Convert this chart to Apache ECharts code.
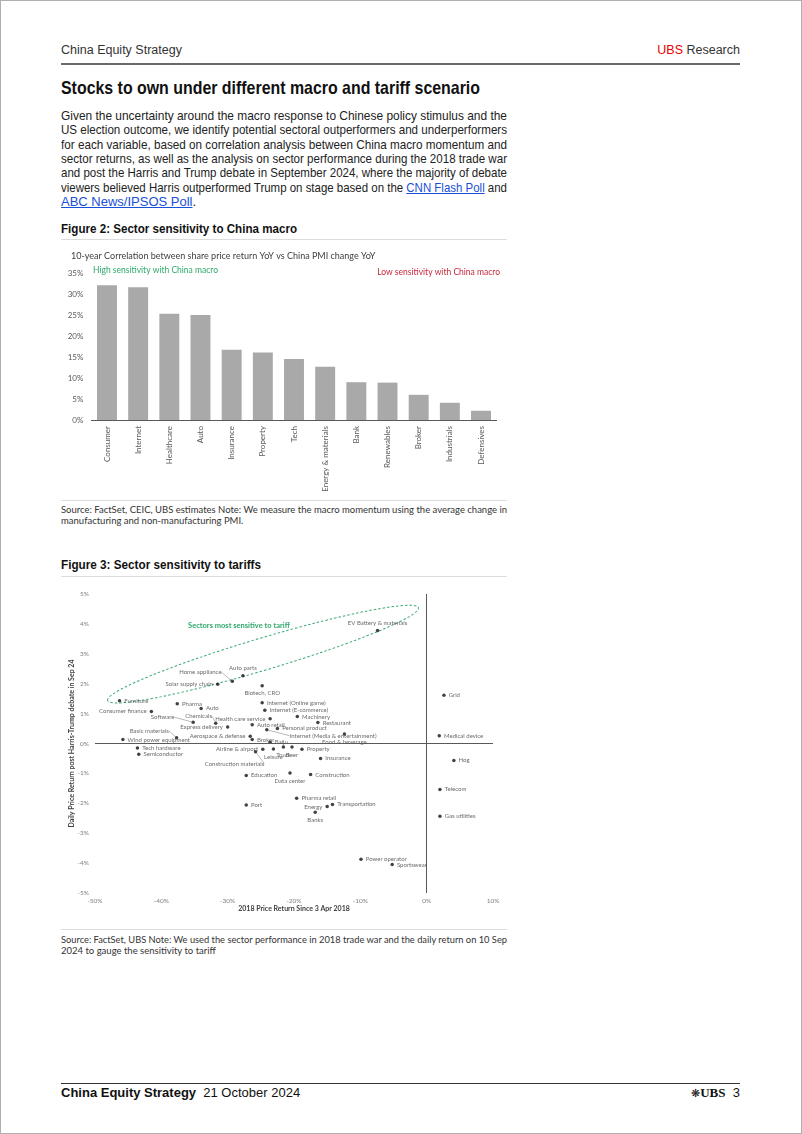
<!DOCTYPE html>
<html>
<head>
<meta charset="utf-8">
<script src="https://cdn.jsdelivr.net/npm/echarts@6/dist/echarts.min.js"></script>
<style>
  html,body{margin:0;padding:0;background:#fff;}
  body{width:802px;height:1134px;position:relative;overflow:hidden;font-family:"Liberation Sans Narrow","Liberation Sans",sans-serif;color:#222;}
  .pageborder{position:absolute;left:0;top:0;width:800px;height:1132px;border:1px solid #b0b0b0;}
  .abs{position:absolute;white-space:nowrap;}
  .jl{position:absolute;left:61px;white-space:nowrap;}
  .jl > span{display:inline-block;transform-origin:0 50%;}
  a{color:#1a4fd6;text-decoration:underline;}
  .rule{position:absolute;left:61px;}
  .src{font-family:"Lato","Liberation Sans",sans-serif;font-size:9.5px;color:#333;}
</style>
</head>
<body>
<div class="pageborder"></div>

<!-- header -->
<div class="abs" style="left:61px;top:42px;font-size:12.5px;line-height:16px;color:#333;">China Equity Strategy</div>
<div class="abs" style="right:62px;top:42px;font-size:12.5px;line-height:16px;color:#333;"><span style="color:#e60000">UBS</span> Research</div>
<div class="rule" style="top:63px;width:679px;height:2px;background:#6a6a6a;"></div>

<!-- title -->
<div class="jl" data-w="419" data-mode="fit" style="top:77px;font-size:19px;line-height:22px;font-weight:bold;color:#111;width:419px;"><span>Stocks to own under different macro and tariff scenario</span></div>

<!-- paragraph -->
<div id="para"></div>

<!-- figure 2 -->
<div class="jl" data-w="236" data-mode="fit" style="top:221px;font-size:13px;line-height:16px;font-weight:bold;color:#111;width:236px;"><span>Figure 2: Sector sensitivity to China macro</span></div>
<div class="rule" style="top:239px;width:446px;height:1px;background:#dcdcdc;"></div>
<div id="chart1" style="position:absolute;left:61px;top:240px;width:446px;height:260px;"></div>
<div class="rule" style="top:500px;width:446px;height:1px;background:#dcdcdc;"></div>
<div class="jl src" data-w="446" data-mode="just" style="top:504px;line-height:12px;width:446px;"><span>Source: FactSet, CEIC, UBS estimates Note: We measure the macro momentum using the average change in</span></div>
<div class="jl src" style="top:515px;line-height:12px;"><span>manufacturing and non-manufacturing PMI.</span></div>

<!-- figure 3 -->
<div class="jl" data-w="200" data-mode="fit" style="top:557px;font-size:13px;line-height:16px;font-weight:bold;color:#111;width:200px;"><span>Figure 3: Sector sensitivity to tariffs</span></div>
<div class="rule" style="top:576px;width:446px;height:1px;background:#dcdcdc;"></div>
<div id="chart2" style="position:absolute;left:61px;top:580px;width:446px;height:345px;"></div>
<div class="rule" style="top:929px;width:446px;height:1px;background:#dcdcdc;"></div>
<div class="jl src" data-w="446" data-mode="just" style="top:934px;line-height:12px;width:446px;"><span>Source: FactSet, UBS Note: We used the sector performance in 2018 trade war and the daily return on 10 Sep</span></div>
<div class="jl src" style="top:945px;line-height:12px;"><span>2024 to gauge the sensitivity to tariff</span></div>

<!-- footer -->
<div class="rule" style="top:1083px;width:679px;height:1px;background:#333;"></div>
<div class="abs" style="left:61px;top:1085px;font-size:13px;line-height:16px;color:#111;"><b>China Equity Strategy</b>&nbsp;&nbsp;21 October 2024</div>
<div class="abs" style="right:62px;top:1085px;font-size:13px;line-height:16px;color:#111;"><span style="font-family:'DejaVu Sans';font-size:11px;">❋</span><span style="font-family:'Liberation Serif';font-weight:bold;">UBS</span>&nbsp;&nbsp;3</div>

<script>
// ---------- page text ----------
const paragraphLines = [
  'Given the uncertainty around the macro response to Chinese policy stimulus and the',
  'US election outcome, we identify potential sectoral outperformers and underperformers',
  'for each variable, based on correlation analysis between China macro momentum and',
  'sector returns, as well as the analysis on sector performance during the 2018 trade war',
  'and post the Harris and Trump debate in September 2024, where the majority of debate',
  'viewers believed Harris outperformed Trump on stage based on the <a>CNN Flash Poll</a> and',
  '<a>ABC News/IPSOS Poll</a>.'
];
(function(){
  const host = document.getElementById('para');
  paragraphLines.forEach((t,i)=>{
    const d = document.createElement('div');
    d.className = 'jl';
    d.style.top = (108 + i*14.33) + 'px';
    d.style.fontSize = '13px';
    d.style.lineHeight = '16px';
    d.style.color = '#222';
    if (i < paragraphLines.length-1){ d.dataset.w = '446'; d.dataset.mode='just'; d.style.width='446px'; }
    d.innerHTML = '<span>'+t+'</span>';
    host.appendChild(d);
  });
  document.querySelectorAll('.jl[data-w]').forEach(el=>{
    const span = el.firstElementChild;
    const target = parseFloat(el.dataset.w);
    const w = span.getBoundingClientRect().width;
    const gaps = (span.textContent.trim().match(/\s+/g)||[]).length;
    if (w > target){
      span.style.transform = 'scaleX('+(target/w)+')';
    } else if (el.dataset.mode==='just' && gaps>0){
      span.style.wordSpacing = ((target-w)/gaps)+'px';
    } else if (el.dataset.mode==='fit'){
      span.style.transform = 'scaleX('+(target/w)+')';
    }
  });
})();

// ---------- Figure 2 data ----------
const macroCategories = ['Consumer','Internet','Healthcare','Auto','Insurance','Property','Tech','Energy & materials','Bank','Renewables','Broker','Industrials','Defensives'];
const macroCorrelation = [32.1, 31.6, 25.3, 25.0, 16.7, 16.1, 14.5, 12.7, 9.0, 8.9, 6.0, 4.1, 2.2];

// ---------- Figure 3 data ----------
const sectors = ['EV Battery & materials','Auto parts','Home appliance','Solar supply chain','Biotech, CRO','Furniture','Consumer finance','Pharma','Auto','Internet (Online game)','Internet (E-commerce)','Machinery','Restaurant','Software','Chemicals','Express delivery','Health care service','Auto retail','Personal product','Internet (Media & entertainment)','Food & beverage','Basic materials','Wind power equipment','Aerospace & defense','Broker','Baiju','Tech hardware','Semiconductor','Airline & airport','Construction materials','Leisure','Truck','Beer','Property','Insurance','Education','Data center','Construction','Pharma retail','Port','Energy','Transportation','Banks','Power operator','Sportswear','Grid','Medical device','Hog','Telecom','Gas utilities'];
const return2018 = [-7.4,-27.7,-29.3,-31.5,-24.8,-46.3,-41.5,-37.6,-34.0,-24.8,-24.4,-19.5,-16.4,-35.2,-31.8,-30.0,-23.6,-26.3,-22.5,-24.1,-12.4,-37.7,-45.8,-26.6,-26.3,-23.6,-43.6,-43.4,-24.7,-25.8,-23.1,-21.6,-20.3,-18.8,-16.0,-27.2,-20.6,-17.5,-19.6,-27.2,-15.0,-14.2,-16.8,-9.9,-5.2,2.6,1.9,4.1,2.0,2.0];
const debateReturn = [3.78,2.27,2.08,1.98,1.93,1.43,1.07,1.33,1.17,1.36,1.11,0.90,0.70,0.71,0.68,0.55,0.83,0.63,0.50,0.46,0.32,0.19,0.13,0.24,0.13,0.04,-0.15,-0.36,-0.19,-0.28,-0.18,-0.12,-0.12,-0.19,-0.50,-1.07,-0.99,-1.04,-1.83,-2.06,-2.11,-2.04,-2.30,-3.87,-4.05,1.61,0.26,-0.57,-1.54,-2.43];

// label placement (style only)
const labelPos = {
  'EV Battery & materials':'top','Auto parts':'top','Home appliance':'left','Solar supply chain':'left',
  'Biotech, CRO':'bottom','Consumer finance':'left','Software':'left','Chemicals':'left','Express delivery':'left',
  'Health care service':'left','Basic materials':'left','Aerospace & defense':'left','Airline & airport':'left',
  'Construction materials':'bottom','Leisure':'bottom','Truck':'bottom','Beer':'bottom','Data center':'bottom',
  'Energy':'left','Banks':'bottom','Food & beverage':'bottom'
};
const labelNudge = { 'Beer':[8,0], 'Leisure':[-4,0], 'Machinery':[0,-2] };
const leaderOffsets = {
  'Home appliance':[-6,-9], 'Software':[-14,-5], 'Chemicals':[1,-7], 'Basic materials':[-3,-7],
  'Construction materials':[-21,4], 'Internet (Media & entertainment)':[18,6]
};

const FONT = 'Lato, "Liberation Sans", sans-serif';

// ---------- Chart 1 ----------
const c1 = echarts.init(document.getElementById('chart1'), null, {renderer:'canvas'});
c1.setOption({
  animation:false,
  title:{text:'10-year Correlation between share price return YoY vs China PMI change YoY', left:5, top:7,
    textStyle:{fontSize:9, fontWeight:'normal', color:'#404040', fontFamily:FONT}},
  grid:{left:30.4, right:10.4, top:33, bottom:80, containLabel:false, outerBoundsMode:'none'},
  xAxis:{type:'category', data:macroCategories,
    axisLine:{lineStyle:{color:'#595959', width:1}}, axisTick:{show:false},
    axisLabel:{rotate:90, fontSize:8, color:'#595959', margin:6, fontFamily:FONT, interval:0}},
  yAxis:{type:'value', min:0, max:35, interval:5,
    axisLabel:{formatter:'{value}%', fontSize:8, color:'#595959', margin:8, fontFamily:FONT},
    axisLine:{show:false}, axisTick:{show:false}, splitLine:{show:false}},
  series:[{type:'bar', data:macroCorrelation, barWidth:'64%', itemStyle:{color:'#a9a9a9'}}],
  graphic:[
    {type:'text', left:32, top:26, style:{text:'High sensitivity with China macro', fill:'#2ea96a', font:'8.5px '+FONT}},
    {type:'text', right:7, top:28, style:{text:'Low sensitivity with China macro', fill:'#c8283e', font:'8.5px '+FONT}}
  ]
});

// ---------- Chart 2 ----------
const scatterData = sectors.map((name,i)=>{
  const pos = labelPos[name] || 'right';
  const item = {name:name, value:[return2018[i], debateReturn[i]],
    label:{position:pos, distance:3}};
  if (labelNudge[name]) item.label.offset = labelNudge[name];
  if (leaderOffsets[name]) item.labelLine = {show:true, lineStyle:{color:'#8a8a8a', width:0.6}};
  return item;
});
const c2 = echarts.init(document.getElementById('chart2'), null, {renderer:'canvas'});
c2.setOption({
  animation:false,
  grid:{left:34, right:14, top:14, bottom:32, containLabel:false, outerBoundsMode:'none'},
  xAxis:{type:'value', min:-50, max:10, interval:10,
    name:'2018 Price Return Since 3 Apr 2018', nameLocation:'middle', nameGap:16, nameMoveOverlap:false,
    nameTextStyle:{fontSize:7, fontWeight:'bold', color:'#404040', fontFamily:FONT, verticalAlign:'middle'},
    axisLabel:{formatter:'{value}%', fontSize:6.5, color:'#808080', margin:4, fontFamily:FONT},
    axisLine:{show:false}, axisTick:{show:false}, splitLine:{show:false}},
  yAxis:{type:'value', min:-5, max:5, interval:1,
    name:'Daily Price Return post Harris-Trump debate in Sep 24', nameLocation:'middle', nameGap:23, nameMoveOverlap:false,
    nameTextStyle:{fontSize:7, fontWeight:'bold', color:'#404040', fontFamily:FONT, verticalAlign:'middle'},
    axisLabel:{formatter:'{value}%', fontSize:6.5, color:'#808080', margin:6, fontFamily:FONT},
    axisLine:{show:false}, axisTick:{show:false}, splitLine:{show:false}},
  series:[{
    type:'scatter', data:scatterData, symbolSize:3.5, itemStyle:{color:'#111'},
    label:{show:true, formatter:'{b}', fontSize:6, color:'#444', fontFamily:FONT},
    labelLine:{show:false},
    labelLayout:function(p){
      const off = leaderOffsets[sectors[p.dataIndex]];
      return off ? {dx:off[0], dy:off[1]} : {};
    },
    markLine:{silent:true, symbol:'none', label:{show:false},
      lineStyle:{color:'#595959', width:1, type:'solid'},
      data:[{xAxis:0},{yAxis:0}]}
  }]
});
// ellipse annotation anchored to data coordinates
(function(){
  const a = c2.convertToPixel({seriesIndex:0}, [-48.1, 1.44]);
  const b = c2.convertToPixel({seriesIndex:0}, [-1.25, 4.54]);
  const t = c2.convertToPixel({seriesIndex:0}, [-28.3, 3.95]);
  const cx = (a[0]+b[0])/2, cy = (a[1]+b[1])/2;
  const rx = Math.hypot(b[0]-a[0], b[1]-a[1])/2;
  const ang = Math.atan2(a[1]-b[1], b[0]-a[0]);
  c2.setOption({graphic:[
    {type:'ellipse', x:cx, y:cy, rotation:ang, shape:{cx:0, cy:0, rx:rx, ry:16},
      style:{fill:'none', stroke:'#3aa872', lineWidth:1, lineDash:[2.5,2]}, silent:true},
    {type:'text', x:t[0], y:t[1], style:{text:'Sectors most sensitive to tariff', fill:'#2ea96a',
      font:'bold 7.5px '+FONT, align:'center', verticalAlign:'middle'}, silent:true}
  ]});
})();
</script>
</body>
</html>
